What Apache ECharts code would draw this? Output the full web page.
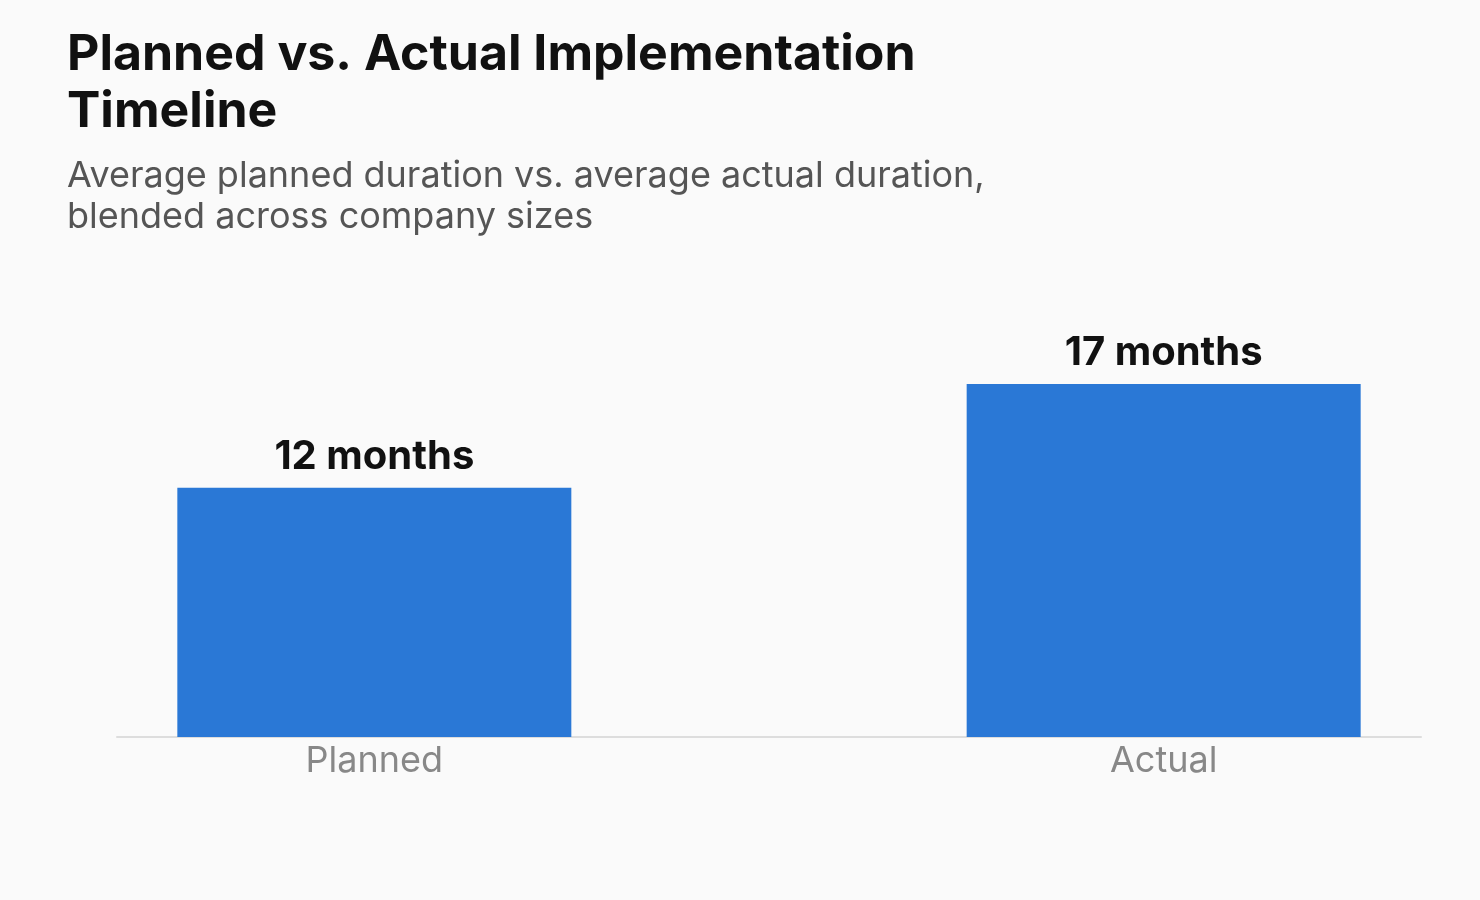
<!DOCTYPE html>
<html>
<head>
	<meta charset="utf-8">
	<title>planned vs actual</title>
	<script type="text/javascript" src="https://cdn.jsdelivr.net/npm/echarts@6/dist/echarts.min.js"></script>
	<style>
		html, body { margin: 0; padding: 0; background: #fafafa; }
	</style>
</head>
<body>
	<div id="main" style="width: 1480px;height:900px;"></div>
	<script type="text/javascript">
		var categories = ['Planned', 'Actual'];
		var months = [12, 17];
		var valueLabels = ['12 months', '17 months'];

		// bars sit on a value axis so they can be placed off the band centres
		var barData = [];
		categories.forEach(function(c, i){
			barData.push([i, months[i]]);
		});

		var myChart = echarts.init(document.getElementById('main'));

		var option = {
			backgroundColor: '#fafafa',
			textStyle: { fontFamily: 'Inter' },
			title: {
				text: 'Planned vs. Actual Implementation\nTimeline',
				subtext: 'Average planned duration vs. average actual duration,\nblended across company sizes',
				left: 62,
				top: 21,
				itemGap: 16,
				textStyle: {
					fontFamily: 'Inter',
					fontSize: 50,
					fontWeight: 'bold',
					color: '#111111',
					lineHeight: 57
				},
				subtextStyle: {
					fontFamily: 'Inter',
					fontSize: 36,
					color: '#555555',
					lineHeight: 41
				}
			},
			grid: {
				left: 117,
				right: 59,
				top: 384,
				bottom: 163
			},
			xAxis: {
				type: 'value',
				min: -0.326,
				max: 1.326,
				axisLine: { show: true, lineStyle: { color: '#dddddd', width: 2 } },
				axisTick: { show: false },
				splitLine: { show: false },
				axisLabel: {
					customValues: [0, 1],
					formatter: function(v){ return categories[Math.round(v)]; },
					fontFamily: 'Inter',
					fontSize: 36,
					color: '#888888',
					margin: 6
				}
			},
			yAxis: {
				type: 'value',
				min: 0,
				max: 17,
				show: false
			},
			series: [{
				name: 'duration',
				type: 'bar',
				barWidth: 394,
				data: barData,
				itemStyle: { color: '#2a78d6' },
				label: {
					show: true,
					position: 'top',
					distance: 11,
					formatter: function(p){ return valueLabels[p.dataIndex]; },
					fontFamily: 'Inter',
					fontSize: 40,
					fontWeight: 'bold',
					color: '#111111'
				}
			}]
		};

		myChart.setOption(option);
	</script>
</body>
</html>
